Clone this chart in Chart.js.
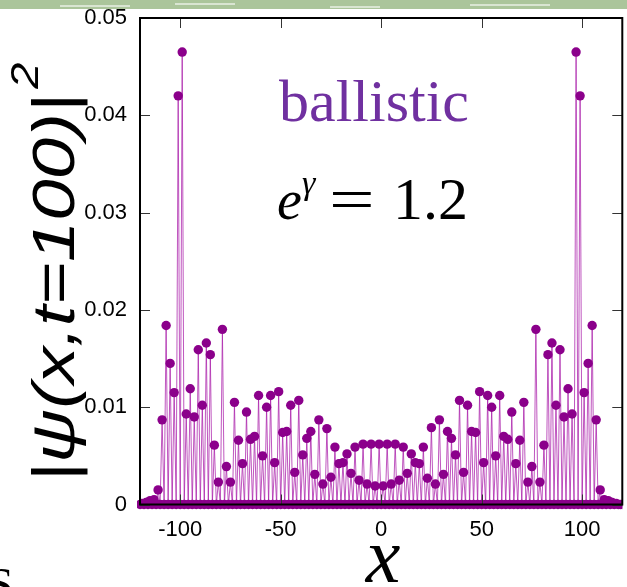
<!DOCTYPE html>
<html>
<head>
<meta charset="utf-8">
<script src="https://cdn.jsdelivr.net/npm/chart.js@4.4.1/dist/chart.umd.min.js"></script>
<style>
  html, body { margin: 0; padding: 0; background: #fff; }
  #wrap { width: 627px; height: 587px; position: relative; }
</style>
</head>
<body>
<div id="wrap"><canvas id="psiChart" width="627" height="587"></canvas></div>
<script>
// probability on odd sites x = -119, -117, ..., 119 (even sites are 0)
const oddSites = [];
for (let x = -119; x <= 119; x += 2) oddSites.push(x);

const probOdd = [
  0.0001, 0.0002, 0.0004, 0.0005, 0.0015, 0.0087, 0.0184, 0.0145, 0.0115, 0.0420,
  0.0465, 0.0093, 0.0119, 0.0090, 0.0159, 0.0102, 0.0166, 0.0154, 0.0061, 0.0023,
  0.0180, 0.0039, 0.0023, 0.0105, 0.0066, 0.0042, 0.0095, 0.0067, 0.0070, 0.0112,
  0.0050, 0.0100, 0.0112, 0.0043, 0.0116, 0.0074, 0.0075, 0.0102, 0.0033, 0.0107,
  0.0051, 0.0068, 0.0075, 0.0031, 0.0087, 0.0021, 0.0078, 0.0028, 0.0059, 0.0042,
  0.0043, 0.0052, 0.0032, 0.0059, 0.0025, 0.0062, 0.0021, 0.0062, 0.0019, 0.0062,
  0.0019, 0.0062, 0.0021, 0.0062, 0.0025, 0.0059, 0.0032, 0.0052, 0.0043, 0.0042,
  0.0059, 0.0027, 0.0079, 0.0021, 0.0087, 0.0031, 0.0075, 0.0068, 0.0051, 0.0107,
  0.0033, 0.0102, 0.0075, 0.0074, 0.0116, 0.0043, 0.0112, 0.0100, 0.0050, 0.0112,
  0.0070, 0.0067, 0.0095, 0.0042, 0.0066, 0.0105, 0.0023, 0.0039, 0.0180, 0.0023,
  0.0061, 0.0154, 0.0166, 0.0102, 0.0159, 0.0090, 0.0119, 0.0093, 0.0465, 0.0420,
  0.0115, 0.0145, 0.0184, 0.0087, 0.0015, 0.0005, 0.0004, 0.0002, 0.0001, 0.0000
];

const xRange = [-120, 120];
const xTickValues = [-100, -50, 0, 50, 100];
const yTickValues = [0, 0.01, 0.02, 0.03, 0.04, 0.05];

// full lattice: every integer site, even ones at zero
const points = [];
for (let x = xRange[0]; x <= xRange[1]; x++) {
  const i = oddSites.indexOf(x);
  points.push({ x: x, y: i >= 0 ? probOdd[i] : 0 });
}

const frameAndText = {
  id: 'frameAndText',
  beforeDraw(chart) {
    const c = chart.ctx;
    c.save();
    c.fillStyle = '#fff';
    c.fillRect(0, 0, chart.width, chart.height);
    // green slide strip at the top
    c.fillStyle = '#abc59b';
    c.fillRect(0, 0, chart.width, 9);
    c.fillStyle = 'rgba(255,255,255,0.55)';
    [[60, 5, 70], [175, 3, 60], [330, 6, 50], [470, 4, 80]].forEach(([x, y, w]) => {
      c.fillRect(x, y, w, 2);
    });
    c.restore();
  },
  afterDatasetsDraw(chart) {
    const c = chart.ctx;
    const a = chart.chartArea;
    const xs = chart.scales.x, ys = chart.scales.y;
    c.save();
    // inward tick marks
    c.strokeStyle = '#333';
    c.lineWidth = 1;
    c.beginPath();
    yTickValues.forEach(v => {
      const py = Math.round(ys.getPixelForValue(v)) + 0.5;
      c.moveTo(a.left, py); c.lineTo(a.left + 10, py);
      c.moveTo(a.right - 10, py); c.lineTo(a.right, py);
    });
    xTickValues.forEach(v => {
      const px = Math.round(xs.getPixelForValue(v)) + 0.5;
      c.moveTo(px, a.top); c.lineTo(px, a.top + 10);
      c.moveTo(px, a.bottom - 10); c.lineTo(px, a.bottom);
    });
    c.stroke();
    // frame
    c.strokeStyle = '#000';
    c.lineWidth = 2;
    c.strokeRect(a.left, a.top, a.right - a.left, a.bottom - a.top);
    c.restore();
  },
  afterDraw(chart) {
    const c = chart.ctx;
    c.save();
    // annotations
    c.textAlign = 'center';
    c.textBaseline = 'alphabetic';
    c.fillStyle = '#7030a0';
    c.font = '60px "Liberation Serif", serif';
    c.fillText('ballistic', 374, 121);

    c.fillStyle = '#000';
    c.textAlign = 'left';
    c.font = 'italic 56px "Liberation Serif", serif';
    c.fillText('e', 277, 219);
    c.font = 'italic 34px "Liberation Serif", serif';
    c.fillText('γ', 302, 194);
    c.font = '60px "Liberation Serif", serif';
    c.save();
    c.translate(329, 219);
    c.scale(1.35, 1);
    c.fillText('=', 0, 0);
    c.restore();
    c.fillText('1.2', 393, 219);

    // x title
    c.textAlign = 'center';
    c.font = 'italic 78px "Liberation Serif", serif';
    c.fillText('x', 383, 582);

    // partial letter at bottom-left edge
    c.textAlign = 'left';
    c.font = '46px "Liberation Serif", serif';
    c.fillText('S', -12, 600);

    // y title, rotated and a little stretched along its length
    c.translate(74, 288);
    c.rotate(-Math.PI / 2);
    c.scale(1.24, 1);
    c.font = 'italic 60px "Liberation Sans", sans-serif';
    const main = '|ψ(x,t=100)|';
    const w = c.measureText(main).width;
    c.textAlign = 'left';
    c.fillText(main, -w / 2, 0);
    c.font = 'italic 38px "Liberation Sans", sans-serif';
    c.fillText('2', w / 2 + 4, -36);
    c.restore();
  }
};

const ctx = document.getElementById('psiChart').getContext('2d');
new Chart(ctx, {
  type: 'line',
  data: {
    datasets: [{
      data: points,
      borderColor: 'rgba(170,30,170,0.75)',
      borderWidth: 1,
      pointRadius: 4.7,
      pointHoverRadius: 4.7,
      pointBackgroundColor: '#8b008b',
      pointBorderWidth: 0,
      tension: 0,
      clip: { left: 3, right: 0, top: 5, bottom: 8 }
    }]
  },
  options: {
    responsive: false,
    animation: false,
    events: [],
    layout: { padding: { top: 18, right: 1, left: 0, bottom: 0 } },
    plugins: { legend: { display: false }, tooltip: { enabled: false } },
    scales: {
      x: {
        type: 'linear',
        min: xRange[0],
        max: xRange[1],
        grid: { display: false, drawTicks: false },
        border: { display: false },
        afterBuildTicks: s => { s.ticks = xTickValues.map(v => ({ value: v })); },
        afterFit: s => { s.height = 82.5; s.paddingLeft = 0; s.paddingRight = 0; },
        ticks: {
          color: '#000',
          padding: 12,
          maxRotation: 0,
          font: { family: '"Liberation Sans", Arial, sans-serif', size: 22 }
        }
      },
      y: {
        min: 0,
        max: 0.05,
        grid: { display: false, drawTicks: false },
        border: { display: false },
        afterBuildTicks: s => { s.ticks = yTickValues.map(v => ({ value: v })); },
        afterFit: s => { s.width = 140; s.paddingTop = 0; s.paddingBottom = 0; },
        ticks: {
          color: '#000',
          padding: 13,
          font: { family: '"Liberation Sans", Arial, sans-serif', size: 22 },
          callback: v => v === 0 ? '0' : v.toFixed(2)
        }
      }
    }
  },
  plugins: [frameAndText]
});
</script>
</body>
</html>
